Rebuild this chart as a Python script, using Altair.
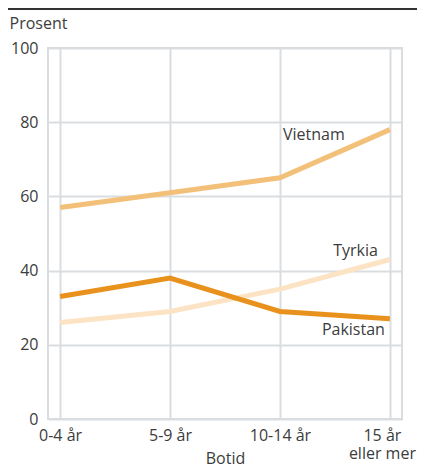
import altair as alt
import pandas as pd

categories = ["0-4 år", "5-9 år", "10-14 år", "15 år eller mer"]
vietnam = [57, 61, 65, 78]
pakistan = [33, 38, 29, 27]
tyrkia = [26, 29, 35, 43]
series_names = ["Vietnam", "Tyrkia", "Pakistan"]
series_colors = ["#f3c07a", "#fbe3c4", "#e8911c"]

rows = []
for name, vals in zip(series_names, [vietnam, tyrkia, pakistan]):
    for c, v in zip(categories, vals):
        rows.append({"serie": name, "botid": c, "verdi": v})
df = pd.DataFrame(rows)

FONT = "Open Sans"
TXT = "#3c3c3c"
GRID = "#d9dde0"

x = alt.X(
    "botid:N",
    sort=categories,
    scale=alt.Scale(type="point", padding=0.11),
    axis=alt.Axis(
        title="Botid",
        labelAngle=0,
        ticks=False,
        domain=False,
        grid=True,
        gridColor=GRID,
        gridWidth=2,
        labelPadding=8,
        labelLineHeight=18,
        labelOffset={"condition": {"test": "datum.value == '15 år eller mer'", "value": -8}, "value": 0},
        labelExpr="datum.label == '15 år eller mer' ? ['15 år', 'eller mer'] : datum.label",
        titleY=44,
        titleBaseline="alphabetic",
    ),
)
y = alt.Y(
    "verdi:Q",
    scale=alt.Scale(domain=[0, 100], nice=False),
    axis=alt.Axis(
        values=[0, 20, 40, 60, 80, 100],
        ticks=False,
        domain=False,
        grid=True,
        gridColor=GRID,
        gridWidth=2,
        labelPadding=10,
        title="Prosent",
        titleAngle=0,
        titleAlign="left",
        titleBaseline="alphabetic",
        titleX=-39,
        titleY=-20,
        titleFontWeight="normal",
    ),
)
color = alt.Color(
    "serie:N",
    scale=alt.Scale(domain=series_names, range=series_colors),
    legend=None,
)

lines = alt.Chart(df).mark_line(strokeWidth=5).encode(x=x, y=y, color=color)

label_style = {
    "Vietnam": dict(anchor=categories[2], align="left", dx=3, dy=-38),
    "Tyrkia": dict(anchor=categories[3], align="right", dx=-12, dy=-3),
    "Pakistan": dict(anchor=categories[3], align="right", dx=-5, dy=16),
}
labels = []
for name in series_names:
    st = label_style[name]
    labels.append(
        alt.Chart(df)
        .transform_filter(
            (alt.datum.serie == name) & (alt.datum.botid == st["anchor"])
        )
        .mark_text(
            align=st["align"],
            baseline="alphabetic",
            fontSize=16,
            font=FONT,
            color=TXT,
            dx=st["dx"],
            dy=st["dy"],
        )
        .encode(x=alt.X("botid:N", sort=categories), y="verdi:Q", text="serie:N")
    )

top_rule = alt.Chart(df).mark_rule(color="#333333", strokeWidth=1.5).encode(
    x=alt.value(-40), x2=alt.value(369), y=alt.value(-39)
)

chart = (
    alt.layer(lines, *labels, top_rule)
    .properties(
        width=354,
        height=371,
        autosize=alt.AutoSizeParams(type="none"),
        padding={"left": 40, "top": 40, "right": 15, "bottom": 49},
    )
    .configure_view(stroke=GRID, strokeWidth=2)
    .configure_axis(
        labelFont=FONT,
        titleFont=FONT,
        labelFontSize=16,
        titleFontSize=16,
        labelColor=TXT,
        titleColor=TXT,
        titleFontWeight="normal",
    )
)

chart.save("out.html", embed_options={"renderer": "svg", "actions": False})
